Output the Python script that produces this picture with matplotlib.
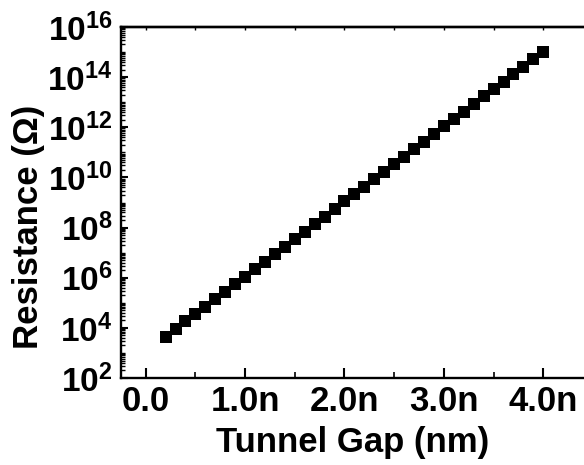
import matplotlib
matplotlib.use("Agg")
import matplotlib.pyplot as plt
from matplotlib.ticker import LogLocator, FixedLocator, MultipleLocator, NullFormatter

# tunnel gap (nm) and resistance (Ohm)
gap = [0.2, 0.3, 0.4, 0.5, 0.6, 0.7, 0.8, 0.9, 1.0, 1.1,
       1.2, 1.3, 1.4, 1.5, 1.6, 1.7, 1.8, 1.9, 2.0, 2.1,
       2.2, 2.3, 2.4, 2.5, 2.6, 2.7, 2.8, 2.9, 3.0, 3.1,
       3.2, 3.3, 3.4, 3.5, 3.6, 3.7, 3.8, 3.9, 4.0]
resistance = [4.5e3, 9.0e3, 1.8e4, 3.5e4, 7.0e4, 1.4e5, 2.8e5, 5.5e5, 1.1e6, 2.2e6,
              4.3e6, 8.6e6, 1.7e7, 3.4e7, 6.8e7, 1.4e8, 2.7e8, 5.4e8, 1.1e9, 2.1e9,
              4.3e9, 8.5e9, 1.7e10, 3.4e10, 6.7e10, 1.3e11, 2.7e11, 5.3e11, 1.1e12, 2.1e12,
              4.2e12, 8.4e12, 1.7e13, 3.3e13, 6.6e13, 1.3e14, 2.6e14, 5.2e14, 1.0e15]

xticks = [0.0, 1.0, 2.0, 3.0, 4.0]
xticklabels = ["0.0", "1.0n", "2.0n", "3.0n", "4.0n"]
yticks = [1e2, 1e4, 1e6, 1e8, 1e10, 1e12, 1e14, 1e16]
yticklabels = [r"$\mathbf{10^{%d}}$" % e for e in [2, 4, 6, 8, 10, 12, 14, 16]]

plt.rcParams["font.family"] = ["Liberation Sans", "DejaVu Sans"]
plt.rcParams["font.weight"] = "bold"
plt.rcParams["mathtext.fontset"] = "custom"
plt.rcParams["mathtext.bf"] = "Liberation Sans:bold"
plt.rcParams["mathtext.rm"] = "Liberation Sans:bold"

fig = plt.figure(figsize=(5.84, 4.65), dpi=100)
ax = fig.add_axes([0.207, 0.187, 0.793, 0.755])

ax.plot(gap, resistance, "s", color="black", markersize=9.2, markeredgewidth=0)

ax.set_yscale("log")
ax.set_xlim(-0.25, 4.41)
ax.set_ylim(1e2, 1e16)

ax.xaxis.set_major_locator(FixedLocator(xticks))
ax.set_xticklabels(xticklabels)
ax.xaxis.set_minor_locator(MultipleLocator(0.5))

ax.yaxis.set_major_locator(FixedLocator(yticks))
ax.set_yticklabels(yticklabels)
ax.yaxis.set_minor_locator(LogLocator(base=10, subs=[1, 2, 3, 4, 5, 6, 7, 8, 9], numticks=40))
ax.yaxis.set_minor_formatter(NullFormatter())

for side in ["left", "bottom", "top"]:
    ax.spines[side].set_linewidth(1.7)
ax.spines["right"].set_visible(False)

ax.tick_params(axis="x", which="major", direction="in", length=7, width=1.5,
               labelsize=25, pad=5, top=False)
ax.tick_params(axis="x", which="minor", direction="in", length=4, width=1.2, top=False)
ax.tick_params(axis="y", which="major", direction="in", length=5, width=1.5,
               labelsize=24, pad=6)
ax.tick_params(axis="y", which="minor", direction="in", length=3, width=1.0)

# small ticks along the top spine
top = ax.secondary_xaxis("top")
top.xaxis.set_major_locator(MultipleLocator(0.5))
top.tick_params(direction="in", length=2.5, width=1.0, labeltop=False)
top.spines["top"].set_linewidth(1.7)

ax.set_xlabel("Tunnel Gap (nm)", fontsize=25, fontweight="bold", labelpad=6)
ax.set_ylabel("Resistance (\u03a9)", fontsize=25, fontweight="bold")
ax.yaxis.set_label_coords(-0.163, 0.43)

fig.savefig("out.png", dpi=100)
